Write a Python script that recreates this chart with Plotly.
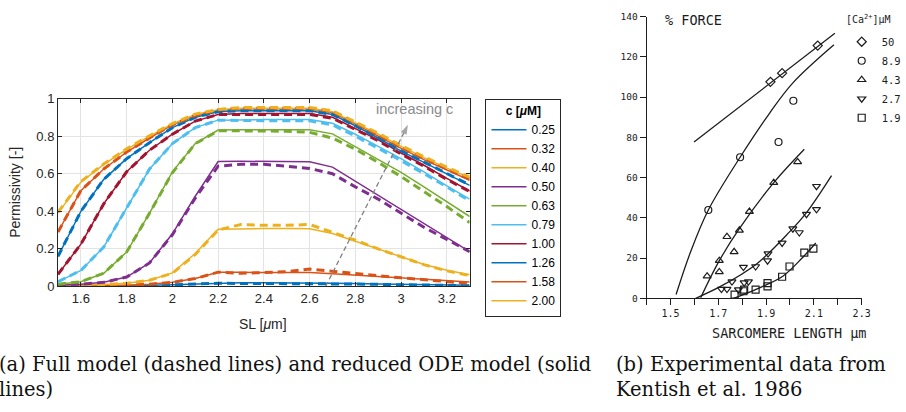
import plotly.graph_objects as go

# ---------------- panel (a): permissivity vs sarcomere length ----------------
sl = [1.5, 1.6, 1.7, 1.8, 1.9, 2.0, 2.1, 2.2, 2.3, 2.4, 2.5, 2.6, 2.7, 2.8, 2.9, 3.0, 3.1, 3.2, 3.3]
conc_labels = ["0.25", "0.32", "0.40", "0.50", "0.63", "0.79", "1.00", "1.26", "1.58", "2.00"]
conc_colors = ["#0072BD", "#D95319", "#EDB120", "#7E2F8E", "#77AC30",
               "#4DBEEE", "#A2142F", "#0072BD", "#D95319", "#EDB120"]

# reduced ODE model (solid)
ode_025 = [0.002, 0.002, 0.003, 0.004, 0.006, 0.009, 0.013, 0.018, 0.019, 0.019, 0.019, 0.019, 0.017, 0.015, 0.013, 0.011, 0.009, 0.007, 0.006]
ode_032 = [0.003, 0.004, 0.005, 0.007, 0.012, 0.022, 0.042, 0.075, 0.075, 0.075, 0.075, 0.074, 0.068, 0.061, 0.053, 0.046, 0.038, 0.031, 0.024]
ode_040 = [0.005, 0.007, 0.010, 0.017, 0.033, 0.072, 0.175, 0.305, 0.308, 0.308, 0.308, 0.307, 0.282, 0.240, 0.197, 0.155, 0.117, 0.086, 0.062]
ode_050 = [0.007, 0.012, 0.022, 0.050, 0.125, 0.280, 0.480, 0.665, 0.666, 0.666, 0.665, 0.664, 0.635, 0.560, 0.485, 0.410, 0.335, 0.260, 0.185]
ode_063 = [0.012, 0.025, 0.070, 0.183, 0.390, 0.610, 0.760, 0.832, 0.834, 0.834, 0.834, 0.834, 0.812, 0.745, 0.678, 0.607, 0.530, 0.450, 0.372]
ode_079 = [0.025, 0.085, 0.210, 0.420, 0.625, 0.760, 0.845, 0.885, 0.888, 0.888, 0.888, 0.888, 0.868, 0.810, 0.745, 0.680, 0.610, 0.535, 0.465]
ode_100 = [0.065, 0.225, 0.440, 0.610, 0.725, 0.810, 0.880, 0.915, 0.920, 0.920, 0.920, 0.920, 0.900, 0.840, 0.780, 0.710, 0.645, 0.575, 0.508]
ode_126 = [0.160, 0.400, 0.570, 0.680, 0.765, 0.845, 0.900, 0.930, 0.935, 0.935, 0.935, 0.935, 0.915, 0.855, 0.790, 0.720, 0.660, 0.600, 0.538]
ode_158 = [0.290, 0.510, 0.625, 0.715, 0.790, 0.860, 0.910, 0.938, 0.945, 0.945, 0.945, 0.945, 0.925, 0.865, 0.800, 0.735, 0.675, 0.620, 0.565]
ode_200 = [0.390, 0.555, 0.650, 0.730, 0.800, 0.865, 0.915, 0.940, 0.948, 0.948, 0.948, 0.948, 0.930, 0.870, 0.810, 0.745, 0.685, 0.630, 0.578]

# full model (dashed)
full_025 = [0.002, 0.002, 0.003, 0.004, 0.006, 0.009, 0.013, 0.017, 0.016, 0.016, 0.016, 0.017, 0.015, 0.013, 0.011, 0.009, 0.007, 0.006, 0.004]
full_032 = [0.003, 0.004, 0.005, 0.007, 0.012, 0.022, 0.042, 0.076, 0.070, 0.072, 0.078, 0.093, 0.080, 0.068, 0.057, 0.046, 0.036, 0.026, 0.016]
full_040 = [0.005, 0.007, 0.010, 0.017, 0.033, 0.070, 0.170, 0.300, 0.330, 0.325, 0.325, 0.330, 0.290, 0.246, 0.200, 0.156, 0.116, 0.083, 0.058]
full_050 = [0.007, 0.012, 0.022, 0.050, 0.125, 0.275, 0.470, 0.640, 0.650, 0.650, 0.640, 0.628, 0.600, 0.530, 0.465, 0.390, 0.315, 0.250, 0.185]
full_063 = [0.012, 0.025, 0.070, 0.183, 0.390, 0.605, 0.760, 0.828, 0.828, 0.828, 0.826, 0.820, 0.790, 0.730, 0.660, 0.585, 0.505, 0.425, 0.340]
full_079 = [0.025, 0.085, 0.210, 0.420, 0.625, 0.760, 0.845, 0.885, 0.882, 0.882, 0.882, 0.882, 0.860, 0.800, 0.735, 0.670, 0.600, 0.530, 0.455]
full_100 = [0.065, 0.225, 0.440, 0.610, 0.725, 0.810, 0.880, 0.915, 0.915, 0.915, 0.915, 0.915, 0.895, 0.835, 0.775, 0.705, 0.640, 0.570, 0.505]
full_126 = [0.160, 0.400, 0.570, 0.680, 0.765, 0.845, 0.900, 0.930, 0.935, 0.935, 0.935, 0.935, 0.915, 0.855, 0.790, 0.722, 0.662, 0.600, 0.540]
full_158 = [0.290, 0.510, 0.625, 0.715, 0.790, 0.860, 0.910, 0.940, 0.948, 0.948, 0.948, 0.948, 0.930, 0.870, 0.805, 0.740, 0.680, 0.625, 0.570]
full_200 = [0.395, 0.558, 0.652, 0.732, 0.802, 0.867, 0.917, 0.942, 0.952, 0.952, 0.952, 0.952, 0.935, 0.875, 0.815, 0.750, 0.690, 0.635, 0.582]

ode_series = [ode_025, ode_032, ode_040, ode_050, ode_063, ode_079, ode_100, ode_126, ode_158, ode_200]
full_series = [full_025, full_032, full_040, full_050, full_063, full_079, full_100, full_126, full_158, full_200]

sl_ticks = [1.6, 1.8, 2.0, 2.2, 2.4, 2.6, 2.8, 3.0, 3.2]
sl_ticktext = ["1.6", "1.8", "2", "2.2", "2.4", "2.6", "2.8", "3", "3.2"]
perm_ticks = [0, 0.2, 0.4, 0.6, 0.8, 1.0]
perm_ticktext = ["0", "0.2", "0.4", "0.6", "0.8", "1"]

# trend arrow ("increasing c")
trend_sl = [2.67, 3.03]
trend_perm = [0.0, 0.86]

# ---------------- panel (b): Kentish et al. 1986 ----------------
ca_labels = ["50", "8.9", "4.3", "2.7", "1.9"]
ca_symbols = ["diamond-open", "circle-open", "triangle-up-open", "triangle-down-open", "square-open"]

pts_50_x = [1.918, 1.967, 2.116]
pts_50_y = [107.6, 111.9, 125.6]
pts_89_x = [1.658, 1.791, 1.952, 2.014]
pts_89_y = [43.9, 70.1, 77.7, 98.2]
pts_43_x = [1.653, 1.704, 1.704, 1.736, 1.766, 1.788, 1.830, 1.932, 2.032]
pts_43_y = [11.0, 18.7, 13.1, 30.6, 23.1, 33.8, 43.1, 57.5, 67.8]
pts_27_x = [1.713, 1.736, 1.757, 1.784, 1.805, 1.808, 1.826, 1.856, 1.906, 1.908, 1.967, 2.012, 2.039, 2.069, 2.111, 2.111]
pts_27_y = [4.6, 4.6, 8.3, 4.3, 15.5, 7.8, 8.3, 15.8, 18.7, 22.2, 27.5, 34.6, 32.7, 41.8, 55.7, 44.2]
pts_19_x = [1.768, 1.805, 1.808, 1.856, 1.906, 1.906, 1.967, 1.998, 2.060, 2.098]
pts_19_y = [1.8, 3.5, 4.3, 4.3, 7.5, 5.9, 10.7, 15.8, 22.7, 24.7]

fit_50_x = [1.598, 2.188]
fit_50_y = [77.7, 131.7]
fit_89_x = [1.523, 1.585, 1.658, 1.791, 1.915, 2.014, 2.184]
fit_89_y = [1.9, 23.5, 43.9, 70.1, 92.1, 107.3, 126.0]
fit_43_x = [1.626, 1.704, 1.788, 1.932, 2.060]
fit_43_y = [0.3, 18.7, 34.6, 57.5, 74.1]
fit_27_x = [1.605, 1.709, 1.860, 1.998, 2.069, 2.174]
fit_27_y = [0.0, 5.9, 17.1, 33.0, 42.6, 61.0]
fit_19_x = [1.764, 1.860, 1.970, 2.053, 2.108]
fit_19_y = [0.0, 4.6, 11.0, 20.3, 27.5]

pts_x = [pts_50_x, pts_89_x, pts_43_x, pts_27_x, pts_19_x]
pts_y = [pts_50_y, pts_89_y, pts_43_y, pts_27_y, pts_19_y]
fit_x = [fit_50_x, fit_89_x, fit_43_x, fit_27_x, fit_19_x]
fit_y = [fit_50_y, fit_89_y, fit_43_y, fit_27_y, fit_19_y]

len_ticks = [1.5, 1.7, 1.9, 2.1, 2.3]
len_minor_ticks = [1.4, 1.6, 1.8, 2.0, 2.2]
force_ticks = [0, 20, 40, 60, 80, 100, 120, 140]

# ---------------- figure ----------------
W, H = 906, 412
SANS = "Liberation Sans"
MONO = "DejaVu Sans Mono"
SERIF = "DejaVu Serif"
AX = "#262626"
INK = "#1c1c1c"

fig = go.Figure()

for lab, col, ys in zip(conc_labels, conc_colors, ode_series):
    fig.add_trace(go.Scatter(x=sl, y=ys, mode="lines", name=lab,
                             line=dict(color=col, width=1.5),
                             xaxis="x", yaxis="y", legend="legend"))
for lab, col, ys in zip(conc_labels, conc_colors, full_series):
    fig.add_trace(go.Scatter(x=sl, y=ys, mode="lines", name=lab, showlegend=False,
                             line=dict(color=col, width=3, dash="8px,5px"),
                             xaxis="x", yaxis="y"))

# dashed trend line with an arrow head at its end
fig.add_trace(go.Scatter(x=trend_sl, y=trend_perm, mode="lines+markers", showlegend=False,
                         line=dict(color="#808080", width=1.3, dash="5px,3px"),
                         marker=dict(symbol="arrow", size=[0, 10], angleref="previous",
                                     color="#808080", line=dict(width=0)),
                         xaxis="x", yaxis="y", hoverinfo="skip", cliponaxis=False))

for fx, fy in zip(fit_x, fit_y):
    fig.add_trace(go.Scatter(x=fx, y=fy, mode="lines", showlegend=False,
                             line=dict(color=INK, width=1.3, shape="spline"),
                             xaxis="x2", yaxis="y2"))
for lab, sym, px, py in zip(ca_labels, ca_symbols, pts_x, pts_y):
    fig.add_trace(go.Scatter(x=px, y=py, mode="markers", name=lab,
                             marker=dict(symbol=sym, size=7, color=INK, line=dict(width=1.2, color=INK)),
                             xaxis="x2", yaxis="y2", legend="legend2"))

fig.update_layout(
    width=W, height=H,
    margin=dict(l=0, r=0, t=0, b=0),
    paper_bgcolor="white", plot_bgcolor="white",
    showlegend=True,
    xaxis=dict(domain=[58.8 / W, 476 / W], range=[1.5, 3.3],
               tickvals=sl_ticks, ticktext=sl_ticktext,
               showgrid=True, gridcolor="#e3e3e3", gridwidth=1,
               showline=True, linecolor=AX, linewidth=1, mirror="ticks",
               ticks="inside", ticklen=4, tickcolor=AX,
               tickfont=dict(family=SANS, size=13, color=AX), zeroline=False),
    yaxis=dict(domain=[1 - 290 / H, 1 - 95 / H], range=[0, 1],
               tickvals=perm_ticks, ticktext=perm_ticktext,
               showgrid=True, gridcolor="#e3e3e3", gridwidth=1,
               showline=True, linecolor=AX, linewidth=1, mirror="ticks",
               ticks="inside", ticklen=4, tickcolor=AX,
               tickfont=dict(family=SANS, size=13, color=AX), zeroline=False),
    xaxis2=dict(domain=[655.4 / W, 873.2 / W], range=[1.4, 2.3], anchor="y2",
                tickvals=len_ticks,
                minor=dict(tickmode="array", tickvals=len_minor_ticks, ticks="outside",
                           ticklen=6, tickwidth=1.2, tickcolor=INK, showgrid=False),
                showgrid=False, showline=True, linecolor=INK, linewidth=1.2,
                ticks="outside", ticklen=6, tickcolor=INK, tickwidth=1.2,
                tickfont=dict(family=MONO, size=10, color=INK), zeroline=False),
    yaxis2=dict(domain=[1 - 302.3 / H, 1 - 10 / H], range=[0, 140], anchor="x2",
                tickvals=force_ticks,
                showgrid=False, showline=True, linecolor=INK, linewidth=1.2,
                ticks="outside", ticklen=6, tickcolor=INK, tickwidth=1.2,
                tickfont=dict(family=MONO, size=9.5, color=INK), zeroline=False),
    legend=dict(x=492 / W, y=1 - 95 / H, xanchor="left", yanchor="top",
                bgcolor="white", bordercolor=AX, borderwidth=1,
                font=dict(family=SANS, size=12, color="#000"),
                title=dict(text="<b>c [<i>μ</i>M]</b>", side="top center",
                           font=dict(family=SANS, size=12, color="#000")),
                itemwidth=35, tracegroupgap=0),
    legend2=dict(x=853 / W, y=1 - 21 / H, xanchor="left", yanchor="top",
                 bgcolor="rgba(0,0,0,0)", borderwidth=0,
                 font=dict(family=MONO, size=10.5, color=INK),
                 itemwidth=30, tracegroupgap=0),
)

# separator under the legend title
fig.add_shape(type="line", xref="paper", yref="paper",
              x0=492 / W, x1=563 / W, y0=1 - 117 / H, y1=1 - 117 / H,
              line=dict(color=AX, width=1))

CAP = 19.5
annotations = [
    dict(text="increasing c", x=420 / W, y=1 - 106 / H, font=dict(family=SANS, size=14.5, color="#8a8a8a")),
    dict(text="Permissivity [-]", x=15 / W, y=1 - 192 / H, textangle=-90,
         font=dict(family=SANS, size=14, color=AX)),
    dict(text="SL [<i>μ</i>m]", x=267 / W, y=1 - 329 / H, font=dict(family=SANS, size=14, color=AX)),
    dict(text="% FORCE", x=672 / W, y=1 - 13 / H, xanchor="left",
         font=dict(family=MONO, size=13.5, color=INK)),
    dict(text="[Ca<sup>2+</sup>]μM", x=905 / W, y=1 - 12 / H, xanchor="right",
         font=dict(family=MONO, size=10, color=INK)),
    dict(text="SARCOMERE LENGTH μm", x=800 / W, y=1 - 338 / H,
         font=dict(family=MONO, size=13.5, color=INK)),
    dict(text="(a) Full model (dashed lines) and reduced ODE model (solid", x=-3 / W, y=1 - 371 / H,
         xanchor="left", font=dict(family=SERIF, size=CAP, color="#111")),
    dict(text="lines)", x=-3 / W, y=1 - 397 / H,
         xanchor="left", font=dict(family=SERIF, size=CAP, color="#111")),
    dict(text="(b) Experimental data from", x=622 / W, y=1 - 371 / H,
         xanchor="left", font=dict(family=SERIF, size=CAP, color="#111")),
    dict(text="Kentish et al. 1986", x=622 / W, y=1 - 397 / H,
         xanchor="left", font=dict(family=SERIF, size=CAP, color="#111")),
]
for a in annotations:
    base = dict(xref="paper", yref="paper", showarrow=False, xanchor="center", yanchor="middle")
    base.update(a)
    fig.add_annotation(**base)

fig.write_html("out.html")
